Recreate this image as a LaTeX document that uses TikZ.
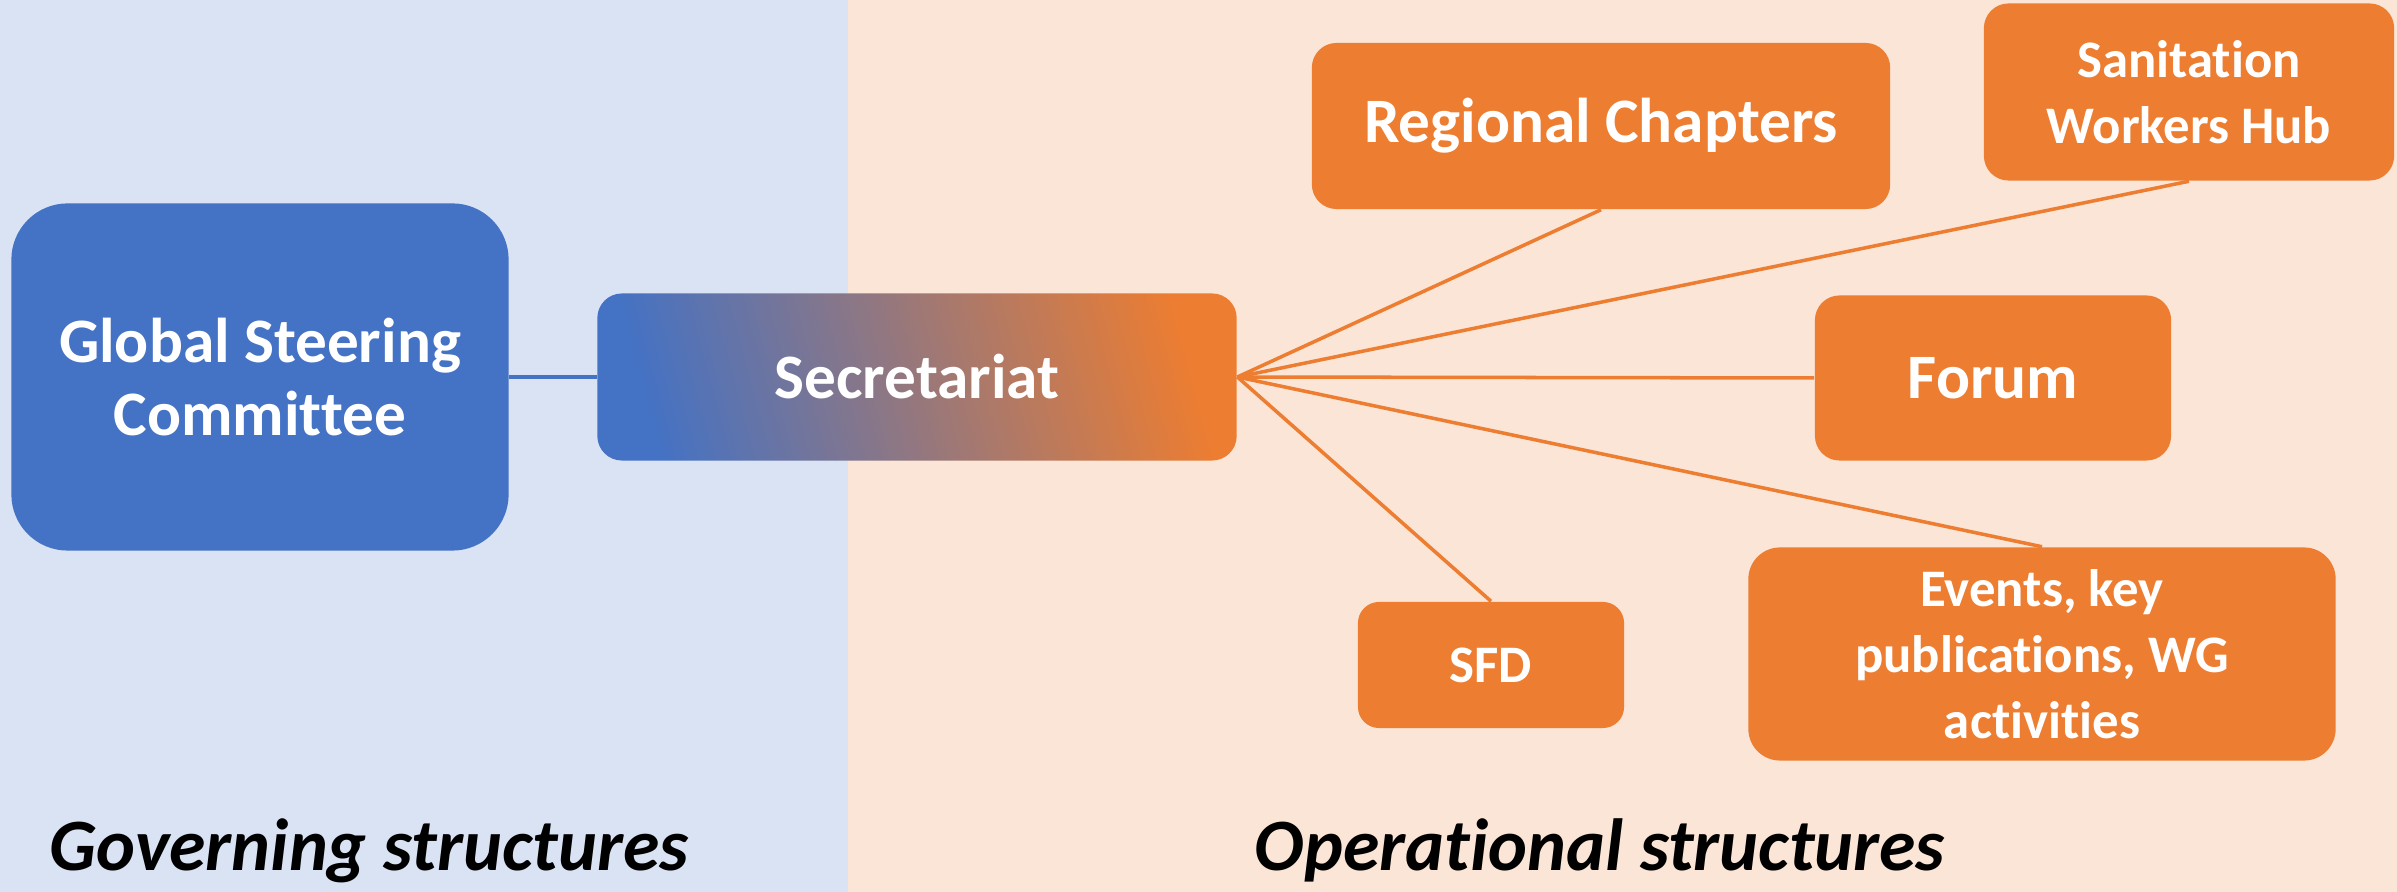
\documentclass[tikz,border=0pt]{standalone}
\usepackage{fontspec}
\setmainfont[Ligatures={NoCommon,NoRare}]{Carlito}
\usetikzlibrary{positioning}
\definecolor{govblue}{HTML}{4472C4}
\definecolor{opsorange}{HTML}{ED7D31}
\definecolor{govback}{HTML}{DAE3F3}
\definecolor{opsback}{HTML}{FBE5D6}
\tikzset{
  unitbox/.style={rounded corners=7pt, text=white, align=center, inner sep=0pt,
    font=\bfseries\fontsize{18}{21}\selectfont},
  orangebox/.style={unitbox, fill=opsorange},
  smallbox/.style={font=\bfseries\fontsize{15}{18.8}\selectfont},
  link/.style={opsorange, line width=1pt},
  sidelabel/.style={anchor=base, font=\bfseries\itshape\fontsize{21}{25}\selectfont}
}
\begin{document}
\begin{tikzpicture}[x=0.01cm, y=-0.01cm]
                    \useasboundingbox (0,0) rectangle (2397,892);
                    \fill[govback] (0,0) rectangle (848,892);
                    \fill[opsback] (848,0) rectangle (2397,892);

                    \node[unitbox, fill=govblue, rounded corners=16pt,
                          minimum width=4.97cm, minimum height=3.47cm] (GSC) at (260,377)
                          {Global Steering\\Committee};
                    \node[unitbox, left color=govblue, right color=opsorange, shading angle=105,
                          minimum width=6.39cm, minimum height=1.67cm] (SEC) at (917,377)
                          {Secretariat};

                    \node[orangebox, minimum width=5.78cm, minimum height=1.66cm] (REG) at (1601,126)
                          {Regional Chapters};
                    \node[orangebox, smallbox, minimum width=4.10cm, minimum height=1.77cm] (SWH) at (2189,92)
                          {Sanitation\\Workers Hub};
                    \node[orangebox, minimum width=3.56cm, minimum height=1.65cm] (FOR) at (1993,378)
                          {Forum};
                    \node[orangebox, smallbox, rounded corners=6pt,
                          minimum width=2.66cm, minimum height=1.26cm] (SFD) at (1491,665)
                          {SFD};
                    \node[orangebox, smallbox, rounded corners=9pt,
                          minimum width=5.87cm, minimum height=2.13cm] (EVT) at (2042,654)
                          {Events, key\\publications, WG\\activities};

                    \draw[govblue, line width=1pt] (GSC.east) -- (SEC.west);
                    \draw[link] (SEC.east) -- (REG.south);
                    \draw[link] (SEC.east) -- (SWH.south);
                    \draw[link] (SEC.east) -- (FOR.west);
                    \draw[link] (SEC.east) -- (EVT.north);
                    \draw[link] (SEC.east) -- (SFD.north);

                    \node[sidelabel] (GOV) at (369,871) {Governing structures};
                    \node[sidelabel] (OPS) at (1600,871) {Operational structures};
                \end{tikzpicture}
\end{document}
